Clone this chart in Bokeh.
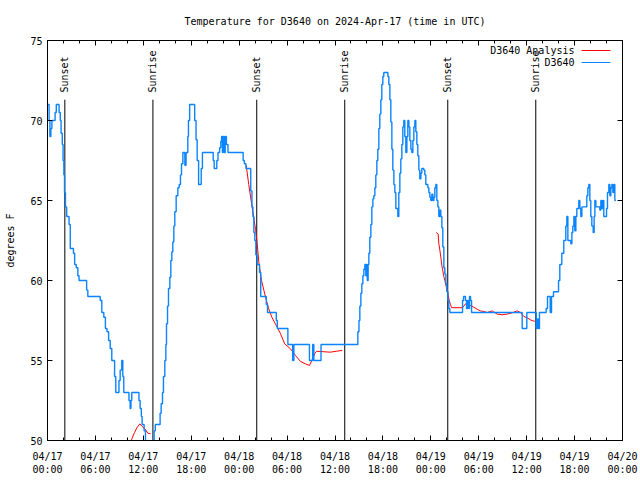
import numpy as np
from bokeh.plotting import figure
from bokeh.models import Range1d, FixedTicker, LinearAxis
from bokeh.core.properties import value
from bokeh.embed import file_html
from bokeh.resources import INLINE

FONT = "DejaVu Sans Mono"

# Observations (hours since 2024-04-17 00:00 UTC, degrees F) -- step series
obs_hours = [0.0, 0.2, 0.3, 0.42, 0.55, 0.95, 1.1, 1.45, 1.6, 1.7, 1.85, 1.95, 2.05, 2.13, 2.25, 2.4,
             2.7, 2.85, 3.25, 3.4, 3.6, 3.8, 3.95, 4.9, 5.05, 6.6, 6.8, 7.05, 7.25, 7.45, 7.65, 7.85,
             8.05, 8.4, 8.55, 8.95, 9.1, 9.3, 9.43, 9.55, 10.2, 10.35, 10.45, 10.55, 11.45, 11.6, 11.75,
             11.85, 12.1, 12.27, 13.35, 13.5, 14.1, 14.23, 14.4, 14.52, 14.69, 14.82, 14.9, 15.03, 15.15,
             15.32, 15.44, 15.57, 15.69, 15.82, 15.94, 16.11, 16.32, 16.49, 16.65, 16.78, 16.95, 17.2,
             17.35, 17.57, 17.65, 17.8, 18.43, 18.6, 18.74, 18.92, 19.25, 19.4, 20.75, 20.87, 21.2, 21.35,
             21.55, 21.7, 21.8, 21.9, 22.0, 22.12, 22.25, 22.4, 22.6, 24.5, 24.65, 24.85, 25.45, 25.6,
             25.72, 25.84, 25.96, 26.09, 26.25, 26.55, 26.7, 27.4, 27.55, 28.65, 28.78, 30.1, 30.7, 30.85,
             32.8, 33.2, 33.35, 34.25, 38.86, 39.0, 39.11, 39.24, 39.36, 39.49, 39.61, 39.74, 39.86, 39.95,
             40.05, 40.15, 40.24, 40.36, 40.49, 40.61, 40.74, 40.86, 40.99, 41.11, 41.24, 41.36, 41.49,
             41.61, 41.74, 41.86, 41.99, 42.11, 42.62, 42.74, 42.87, 42.99, 43.12, 43.24, 43.37, 43.49,
             43.62, 43.74, 43.87, 43.99, 44.12, 44.24, 44.37, 44.49, 44.62, 44.74, 44.87, 45.0, 45.12,
             45.25, 45.37, 45.5, 45.62, 45.75, 45.87, 46.0, 46.12, 46.25, 46.37, 46.5, 46.62, 46.75, 46.87,
             47.12, 47.25, 47.37, 47.63, 47.75, 47.88, 48.0, 48.13, 48.25, 48.38, 48.5, 48.63, 48.75, 48.88,
             49.0, 49.13, 49.25, 49.38, 49.5, 49.63, 49.75, 49.88, 50.0, 50.13, 50.25, 50.38, 51.97, 52.1,
             52.34, 52.47, 52.59, 52.72, 52.84, 52.97, 53.1, 59.44, 60.02, 61.2, 61.35, 61.45, 61.6, 62.44,
             62.61, 62.95, 63.11, 63.36, 63.99, 64.15, 64.4, 64.65, 64.9, 65.03, 65.16, 65.53, 65.66,
             65.78, 65.91, 66.03, 66.16, 66.28, 66.53, 66.66, 66.78, 66.91, 67.53, 67.66, 67.78, 67.91,
             68.03, 68.16, 68.33, 68.45, 68.54, 68.66, 69.16, 69.29, 69.41, 69.54, 69.66, 70.0, 70.12,
             70.29, 70.42, 70.54, 70.67, 70.79, 70.92, 71.04, 71.17, 72.0]
obs_temps = [71.0, 70.0, 69.0, 69.5, 70.0, 70.5, 71.0, 70.5, 70.0, 69.2, 68.5, 67.5, 66.6, 65.5, 64.6, 64.0,
             63.5, 62.0, 61.7, 61.0, 60.8, 60.3, 60.0, 59.4, 59.0, 58.75, 58.0, 57.7, 57.0, 56.8, 56.25, 55.75,
             55.0, 54.0, 53.0, 53.75, 54.4, 55.0, 54.0, 53.0, 52.5, 52.0, 52.5, 53.0, 52.5, 52.0, 51.5,
             51.0, 50.6, 49.5, 50.6, 51.0, 51.7, 52.3, 53.0, 54.0, 55.0, 56.0, 57.3, 58.4, 59.5,
             60.2, 61.25, 61.8, 62.4, 63.4, 64.3, 65.3, 65.8, 66.0, 66.6, 67.3, 68.0, 67.2,
             68.0, 69.0, 70.0, 71.0, 70.0, 68.8, 67.5, 66.0, 67.0, 68.0, 67.5, 67.0, 67.5, 68.0,
             68.3, 68.7, 69.0, 68.0, 69.0, 68.0, 69.0, 68.5, 68.0, 67.5, 67.3, 67.0, 65.6, 64.6,
             64.0, 63.0, 62.5, 61.6, 61.0, 60.5, 59.0, 58.5, 58.0, 57.5, 57.0, 56.0, 55.0, 56.0,
             55.0, 56.0, 55.0, 56.0, 56.8, 57.5, 58.4, 59.2, 59.8, 60.3, 60.7, 61.0, 60.3, 61.0,
             60.0, 61.0, 61.7, 62.7, 63.5, 64.6, 65.1, 65.3, 65.8, 66.6, 67.5, 68.2, 69.5,
             70.4, 71.3, 72.25, 72.75, 73.0, 72.75, 72.25, 71.3, 69.9, 68.2, 66.9, 66.0, 65.5,
             64.5, 64.5, 64.0, 65.5, 66.7, 67.6, 68.5, 69.6, 70.0, 69.0, 68.0, 69.0, 70.0,
             69.6, 68.75, 68.2, 68.0, 68.75, 69.6, 70.0, 69.3, 68.5, 67.8, 66.9, 66.35, 66.7, 67.0,
             66.9, 66.6, 66.0, 65.8, 65.5, 65.2, 65.0, 65.4, 65.0, 65.2, 65.8, 66.0, 65.0, 64.6,
             64.0, 64.4, 64.0, 63.3, 62.1, 60.8, 60.4, 59.8, 59.3, 58.75, 58.25, 58.0, 58.75, 59.0,
             58.75, 58.25, 58.75, 58.25, 59.0, 58.75, 58.0, 57.0, 58.0, 57.0, 57.6, 57.0, 58.0, 58.25,
             59.0, 58.0, 59.0, 59.3, 60.0, 61.0, 61.7, 62.5, 63.4, 64.0, 62.5, 62.3, 63.0,
             63.4, 64.0, 63.1, 64.0, 64.5, 65.0, 64.5, 64.0, 64.6, 65.3, 65.8, 66.0,
             65.0, 64.0, 63.4, 63.0, 64.0, 65.0, 64.6, 64.4, 65.0, 64.5, 65.0, 64.0, 64.5,
             65.5, 66.0, 65.3, 65.8, 66.0, 65.5, 66.0, 65.0, 65.0]

# Analysis (three pieces)
ana_hours = [
    [10.2, 10.64, 10.9, 11.2, 11.56, 11.8, 12.19, 12.56, 12.9],
    [24.88, 25.2, 25.5, 25.8, 26.05, 26.26, 26.46, 26.8, 27.3, 27.7, 28.1, 28.76, 29.18, 29.7,
     30.43, 31.05, 31.68, 32.3, 32.8, 33.1, 33.5, 33.7, 35.4, 36.2, 36.9],
    [48.67, 48.92, 49.0, 49.13, 49.25, 49.38, 49.5, 49.63, 49.75, 49.88, 50.05, 50.17, 50.3, 50.46,
     50.59, 51.97, 52.13, 52.34, 52.55, 52.76, 53.1, 53.39, 53.81, 54.22, 54.64, 55.06, 55.68, 56.31,
     56.93, 57.56, 58.19, 58.81, 59.23, 59.65, 60.06, 60.48, 60.9, 61.02],
]
ana_temps = [
    [49.6, 50.2, 50.5, 50.8, 51.04, 50.9, 50.73, 50.46, 50.42],
    [67.2, 66.0, 65.0, 64.0, 63.2, 62.3, 61.15, 60.0, 58.96, 58.23, 57.7, 57.08, 56.67, 56.04,
     55.73, 55.31, 54.94, 54.79, 54.69, 55.0, 55.46, 55.58, 55.52, 55.58, 55.63],
    [63.0, 62.9, 62.3, 61.9, 61.46, 60.94, 60.6, 60.25, 60.0, 59.7, 59.4, 59.1, 58.75, 58.5,
     58.3, 58.3, 58.4, 58.54, 58.54, 58.5, 58.4, 58.33, 58.2, 58.1, 58.06, 58.0, 58.1, 57.9,
     57.86, 57.9, 57.98, 58.1, 58.0, 57.75, 57.67, 57.54, 57.46, 57.46],
]

sun_hours = [2.17, 13.2, 26.2, 37.22, 50.12, 61.14]
sun_labels = ["Sunset", "Sunrise", "Sunset", "Sunrise", "Sunset", "Sunrise"]

tick_hours = [0, 6, 12, 18, 24, 30, 36, 42, 48, 54, 60, 66, 72]
tick_labels = ["04/17\n00:00", "04/17\n06:00", "04/17\n12:00", "04/17\n18:00",
               "04/18\n00:00", "04/18\n06:00", "04/18\n12:00", "04/18\n18:00",
               "04/19\n00:00", "04/19\n06:00", "04/19\n12:00", "04/19\n18:00",
               "04/20\n00:00"]
minor_hours = list(range(0, 73, 2))
y_ticks = [50, 55, 60, 65, 70, 75]

series_names = ["D3640 Analysis", "D3640"]
series_colors = ["#ff0000", "#0a84ff"]

p = figure(width=640, height=480, output_backend="svg", toolbar_location=None,
           x_range=Range1d(0, 72), y_range=Range1d(50, 75),
           min_border_left=47, min_border_right=18, min_border_top=40, min_border_bottom=40,
           title="Temperature for D3640 on 2024-Apr-17 (time in UTC)", x_axis_type=None, y_axis_type=None)
p.title.text_font = FONT
p.title.text_font_size = "10px"
p.title.text_font_style = "normal"
p.title.text_color = "black"
p.title.align = "center"
p.title.standoff = 27
p.outline_line_color = "black"
p.outline_line_alpha = 1
p.background_fill_color = "white"
p.border_fill_color = "white"
p.xgrid.visible = False
p.ygrid.visible = False

def style_axis(ax, labels=True):
    ax.major_tick_in = 5
    ax.major_tick_out = 0
    ax.minor_tick_in = 3
    ax.minor_tick_out = 0
    ax.major_tick_line_color = "black"
    ax.minor_tick_line_color = "black"
    ax.axis_line_color = "black"
    ax.major_label_text_font = FONT
    ax.major_label_text_font_size = "10px"
    ax.major_label_text_color = "black"
    if not labels:
        ax.major_label_text_color = None
        ax.major_label_text_font_size = "0px"
        ax.major_label_standoff = 0

xb = LinearAxis(ticker=FixedTicker(ticks=tick_hours, minor_ticks=minor_hours))
style_axis(xb)
xb.major_label_overrides = {h: lab for h, lab in zip(tick_hours, tick_labels)}
xb.major_label_standoff = 10
p.add_layout(xb, "below")

xt = LinearAxis(ticker=FixedTicker(ticks=tick_hours, minor_ticks=minor_hours))
style_axis(xt, labels=False)
p.add_layout(xt, "above")

yl = LinearAxis(ticker=FixedTicker(ticks=y_ticks, minor_ticks=[]), axis_label="degrees F")
style_axis(yl)
yl.minor_tick_line_color = None
yl.major_label_standoff = 5
yl.axis_label_text_font = FONT
yl.axis_label_text_font_size = "10px"
yl.axis_label_text_font_style = "normal"
yl.axis_label_text_color = "black"
yl.axis_label_standoff = 11
p.add_layout(yl, "left")

yr = LinearAxis(ticker=FixedTicker(ticks=y_ticks, minor_ticks=[]))
style_axis(yr, labels=False)
yr.minor_tick_line_color = None
p.add_layout(yr, "right")

# Sunrise / sunset markers
p.segment(x0=sun_hours, y0=[50] * len(sun_hours), x1=sun_hours, y1=[71.3] * len(sun_hours),
          line_color="black", line_width=1)
p.text(x=sun_hours, y=[71.75] * len(sun_hours), text=sun_labels, angle=np.pi / 2,
       text_align="left", text_baseline="middle", text_font=value(FONT),
       text_font_size="10px", text_color="black")

# Data
p.multi_line(xs=ana_hours, ys=ana_temps, line_color=series_colors[0], line_width=1)
p.step(obs_hours, obs_temps, mode="after", line_color=series_colors[1], line_width=1.4)

# gnuplot-style key (text right-aligned, sample to the right)
p.extra_x_ranges = {"frac": Range1d(0, 1)}
p.extra_y_ranges = {"frac": Range1d(0, 1)}
key_y = [0.975, 0.945]
p.text(x=[0.9165, 0.9165], y=key_y, text=series_names, text_align="right", text_baseline="middle",
       text_font=value(FONT), text_font_size="10px", text_color="black",
       x_range_name="frac", y_range_name="frac")
for yy, col in zip(key_y, series_colors):
    p.line(x=[0.9287, 0.979], y=[yy, yy], line_color=col, line_width=1.2,
           x_range_name="frac", y_range_name="frac")

open("out.html", "w").write(file_html(p, INLINE))
